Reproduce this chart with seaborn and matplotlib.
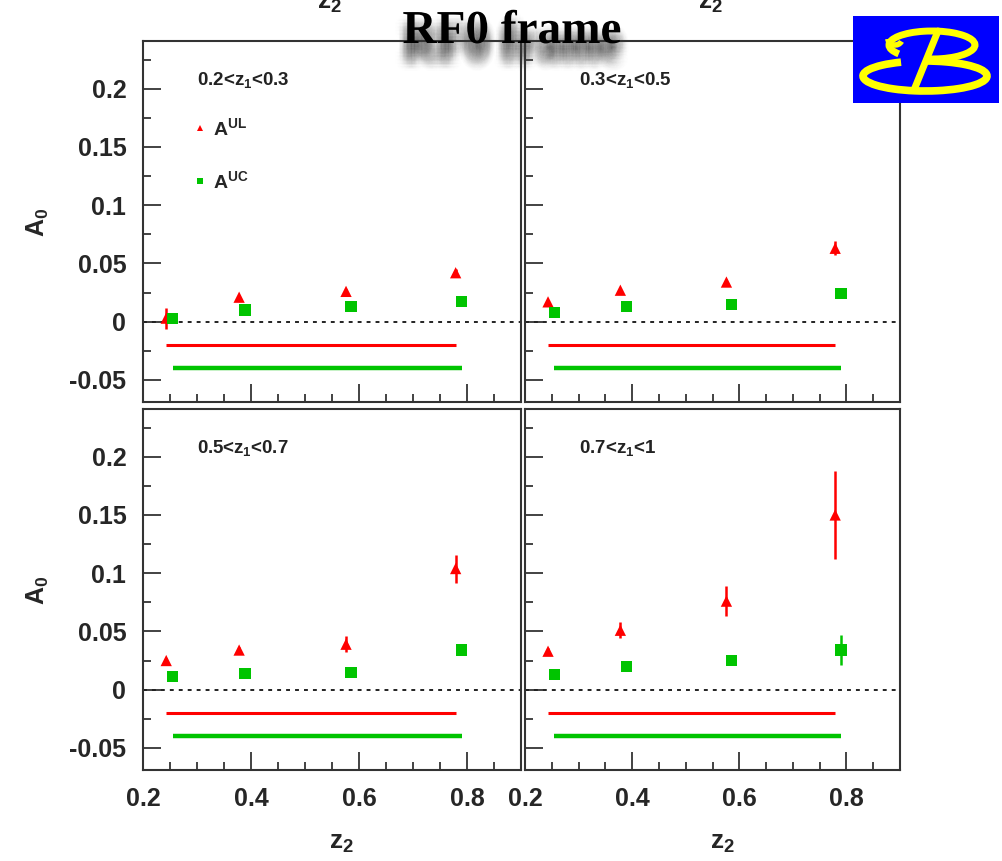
import numpy as np
import pandas as pd
import matplotlib
matplotlib.use("Agg")
import matplotlib.pyplot as plt
import matplotlib.patheffects as pe
from matplotlib.lines import Line2D
from matplotlib.patches import Arc
from matplotlib.ticker import MultipleLocator, FuncFormatter
import seaborn as sns

# Mean z2 of each bin for the two asymmetries
z2_ul = [0.243, 0.378, 0.576, 0.779]
z2_uc = [0.255, 0.389, 0.585, 0.790]

# z1 bins (one panel each)
z1_bins = ["0.2<z$_\\mathbf{1}$<0.3", "0.3<z$_\\mathbf{1}$<0.5",
           "0.5<z$_\\mathbf{1}$<0.7", "0.7<z$_\\mathbf{1}$<1"]

# A0 for the unlike/like ratio (UL)
a_ul_bin1 = [0.003, 0.021, 0.026, 0.042]
a_ul_bin2 = [0.017, 0.027, 0.034, 0.063]
a_ul_bin3 = [0.025, 0.034, 0.039, 0.104]
a_ul_bin4 = [0.033, 0.051, 0.076, 0.150]
err_ul_bin1 = [0.009, 0.002, 0.002, 0.003]
err_ul_bin2 = [0.002, 0.002, 0.003, 0.006]
err_ul_bin3 = [0.002, 0.003, 0.007, 0.012]
err_ul_bin4 = [0.003, 0.007, 0.013, 0.038]

# A0 for the unlike/charged ratio (UC)
a_uc_bin1 = [0.003, 0.010, 0.013, 0.017]
a_uc_bin2 = [0.008, 0.013, 0.015, 0.024]
a_uc_bin3 = [0.011, 0.014, 0.015, 0.034]
a_uc_bin4 = [0.013, 0.020, 0.025, 0.034]
err_uc_bin1 = [0.002, 0.002, 0.002, 0.002]
err_uc_bin2 = [0.002, 0.002, 0.002, 0.003]
err_uc_bin3 = [0.002, 0.002, 0.002, 0.004]
err_uc_bin4 = [0.002, 0.003, 0.004, 0.013]

# Levels of the systematic-error bars drawn below zero
sys_level = {"UL": -0.02, "UC": -0.04}

series_labels = {"UL": r"$\mathbf{A^{UL}}$", "UC": r"$\mathbf{A^{UC}}$"}
colors = {"UL": "#ff0000", "UC": "#00c400"}
markers = {"UL": "^", "UC": "s"}

a_ul = [a_ul_bin1, a_ul_bin2, a_ul_bin3, a_ul_bin4]
a_uc = [a_uc_bin1, a_uc_bin2, a_uc_bin3, a_uc_bin4]
e_ul = [err_ul_bin1, err_ul_bin2, err_ul_bin3, err_ul_bin4]
e_uc = [err_uc_bin1, err_uc_bin2, err_uc_bin3, err_uc_bin4]

rows = []
for i, b in enumerate(z1_bins):
    for z, a, e in zip(z2_ul, a_ul[i], e_ul[i]):
        rows.append(dict(bin=b, series="UL", z2=z, A0=a, err=e))
    for z, a, e in zip(z2_uc, a_uc[i], e_uc[i]):
        rows.append(dict(bin=b, series="UC", z2=z, A0=a, err=e))
df = pd.DataFrame(rows)

sns.set_theme(style="white")
plt.rcParams["font.family"] = ["Liberation Sans", "DejaVu Sans"]
plt.rcParams["font.weight"] = "bold"
plt.rcParams["mathtext.fontset"] = "custom"
plt.rcParams["mathtext.rm"] = "Liberation Sans"
plt.rcParams["mathtext.bf"] = "Liberation Sans:bold"
plt.rcParams["mathtext.it"] = "Liberation Sans:italic:bold"
plt.rcParams["axes.unicode_minus"] = False

W, H = 1003, 861
fig = plt.figure(figsize=(W / 100, H / 100), dpi=100)
fig.patch.set_facecolor("white")


def px_axes(x0, y0, x1, y1):
    return fig.add_axes([x0 / W, 1 - y1 / H, (x1 - x0) / W, (y1 - y0) / H])


boxes = [(143, 41, 521, 402), (525, 41, 900, 402),
         (143, 409, 521, 770), (525, 409, 900, 770)]

fmt = FuncFormatter(lambda v, p: "%g" % round(v, 3))

for i, (b, box) in enumerate(zip(z1_bins, boxes)):
    ax = px_axes(*box)
    sub = df[df["bin"] == b]
    ax.axhline(0, color="#222222", ls=(0, (2.0, 2.6)), lw=1.4, zorder=1)
    for s, g in sub.groupby("series"):
        ax.errorbar(g["z2"], g["A0"], yerr=g["err"], fmt="none",
                    ecolor=colors[s], elinewidth=1.8, capsize=0, zorder=2)
        ax.hlines(sys_level[s], g["z2"].min(), g["z2"].max(),
                  colors=colors[s], lw=2.2 if s == "UL" else 3.2, zorder=2)
    sns.scatterplot(data=sub, x="z2", y="A0", hue="series", style="series",
                    palette=colors, markers=markers, s=66, linewidth=0,
                    legend=False, ax=ax, zorder=3)
    ax.set_xlim(0.2, 0.9)
    ax.set_ylim(-0.069, 0.241)
    ax.xaxis.set_major_locator(MultipleLocator(0.2))
    ax.xaxis.set_minor_locator(MultipleLocator(0.05))
    ax.yaxis.set_major_locator(MultipleLocator(0.05))
    ax.yaxis.set_minor_locator(MultipleLocator(0.025))
    ax.xaxis.set_major_formatter(fmt)
    ax.yaxis.set_major_formatter(fmt)
    ax.tick_params(which="both", direction="in", top=False, right=False,
                   bottom=True, left=True, width=1.2, color="#222222",
                   labelsize=18)
    ax.tick_params(which="major", length=13)
    ax.tick_params(which="minor", length=6)
    ax.tick_params(axis="y", pad=12)
    ax.tick_params(axis="x", pad=12)
    ax.tick_params(labelbottom=(i >= 2), labelleft=(i % 2 == 0))
    for lab in ax.get_xticklabels() + ax.get_yticklabels():
        lab.set_fontweight("bold")
    ax.set_xlabel("")
    ax.set_ylabel("")
    for sp in ax.spines.values():
        sp.set_color("#333333")
        sp.set_linewidth(1.5)
    ax.text(0.143, 0.892, b, transform=ax.transAxes, fontsize=13.5,
            fontweight="bold", ha="left", va="center", color="#222222")
    if i == 0:
        handles = [Line2D([], [], marker=markers[s], color=colors[s], ls="",
                          ms=4.5, mew=0) for s in ("UL", "UC")]
        ax.legend(handles, [series_labels["UL"], series_labels["UC"]],
                  loc="upper left", bbox_to_anchor=(0.135, 0.79),
                  frameon=False, fontsize=14, handlelength=0.6,
                  handletextpad=0.4, labelspacing=1.6, borderpad=0,
                  borderaxespad=0)

# Axis titles
for yc in (222, 590):
    fig.text(38 / W, 1 - yc / H, r"$\mathbf{A_0}$", rotation=90,
             ha="center", va="center", fontsize=18)
for xc in (341, 722):
    fig.text(xc / W, 1 - 843 / H, r"$\mathbf{z_2}$", ha="center",
             va="center", fontsize=19)
    # x titles of the row above, clipped at the top edge
    fig.text((xc - 12) / W, 1 - 9 / H, r"$\mathbf{z_2}$", ha="center",
             va="baseline", fontsize=19, color="#222222")

# Title with a soft, blurred drop shadow
shadow = []
for dx in np.arange(-7, 7.5, 1.0):
    for dy in np.arange(-3, -21, -1.0):
        w = np.exp(-((dx / 5.0) ** 2)) * np.exp(-(((dy + 11) / 7.0) ** 2))
        shadow.append(pe.SimplePatchShadow(offset=(dx, dy), shadow_rgbFace="0.3",
                                           alpha=0.012 * w))
fig.text(512 / W, 1 - 43 / H, "RF0 frame", ha="center", va="baseline",
         fontsize=34, fontweight="bold", family="Liberation Serif",
         color="black", path_effects=shadow + [pe.Normal()])

# Experiment logo
lax = px_axes(853, 16, 999, 103)
lax.set_facecolor("#0000ff")
lax.set_xlim(0, 146)
lax.set_ylim(0, 87)
lax.set_xticks([])
lax.set_yticks([])
for sp in lax.spines.values():
    sp.set_visible(False)
yel = "#ffff00"
lax.add_patch(Arc((79, 58), 86, 28, theta1=250, theta2=195, color=yel, lw=5))
lax.add_patch(Arc((72, 27), 124, 30, theta1=150, theta2=92, color=yel, lw=5.5))
lax.add_patch(Arc((42, 64), 14, 12, theta1=180, theta2=340, color=yel, lw=4))
lax.plot([85, 61], [72, 13], color=yel, lw=5, solid_capstyle="round")

fig.savefig("out.png", dpi=100)
